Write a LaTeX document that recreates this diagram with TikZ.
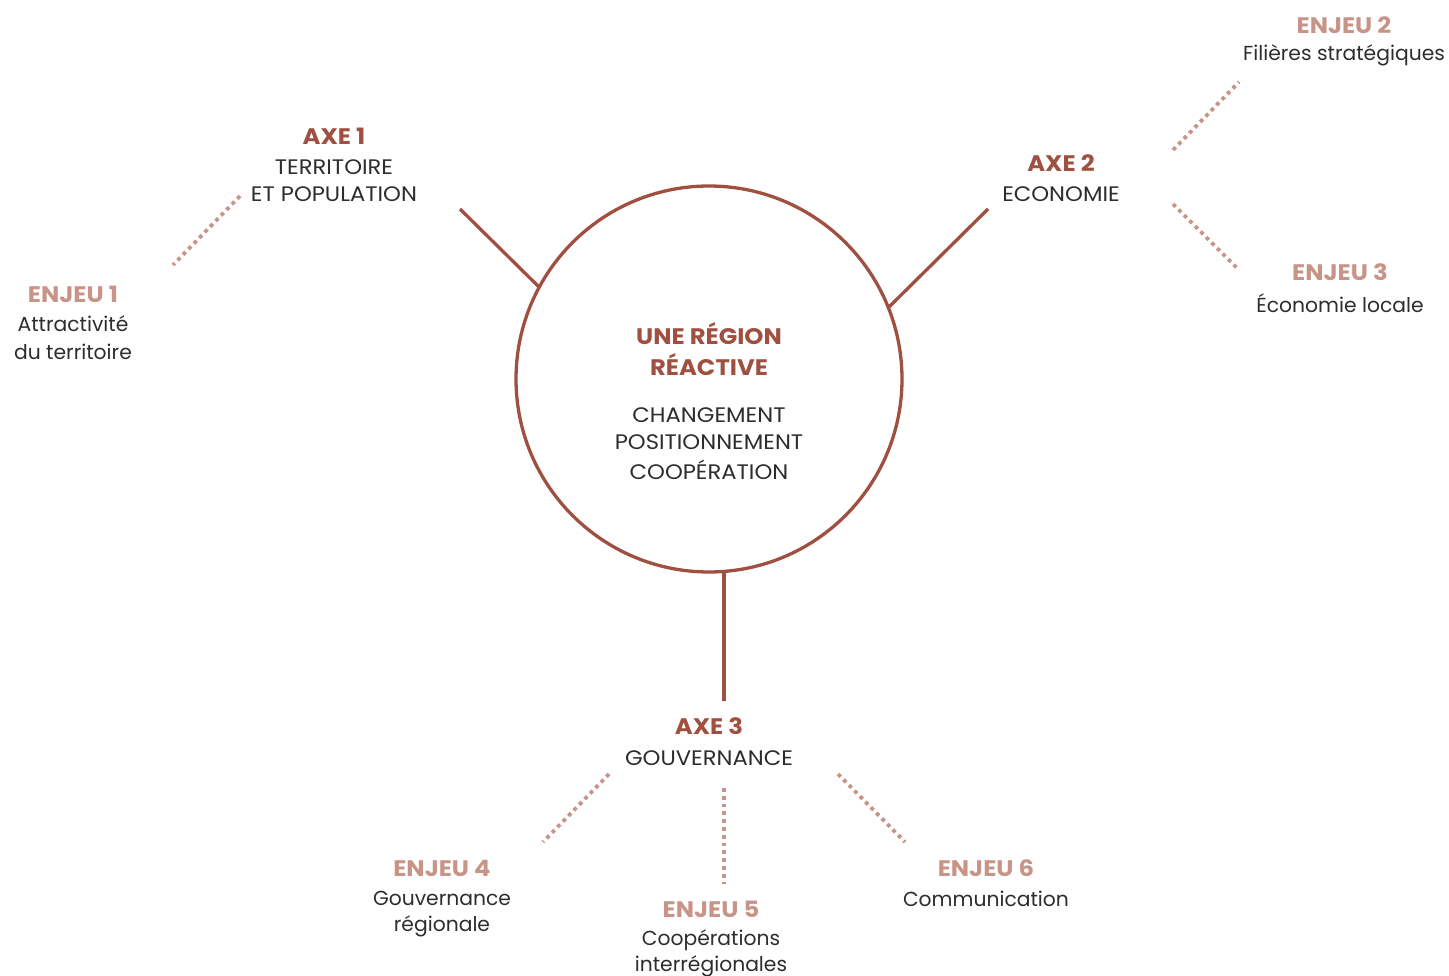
\documentclass[tikz,border=0pt]{standalone}
\usepackage{fontspec}
\setmainfont{Poppins}
\newfontfamily\widefont[FakeStretch=1.08]{Poppins}
\definecolor{axec}{RGB}{160,80,64}
\definecolor{enjc}{RGB}{200,148,136}
\definecolor{txtc}{RGB}{45,45,45}
\tikzset{
  axeline/.style={draw=axec, line width=3.3pt},
  enjline/.style={draw=enjc, line width=3.8pt, dash pattern=on 3.8pt off 4pt},
  axetitle/.style={font=\widefont\fontsize{22.5}{26}\selectfont\bfseries, text=axec, inner sep=0pt, anchor=center},
  enjtitle/.style={font=\widefont\fontsize{22.5}{26}\selectfont\bfseries, text=enjc, inner sep=0pt, anchor=center},
  capl/.style={font=\widefont\fontsize{21}{24}\selectfont, text=txtc, inner sep=0pt, anchor=center},
  lbl/.style={font=\fontsize{20.3}{24}\selectfont, text=txtc, inner sep=0pt, anchor=center},
}
\begin{document}
\begin{tikzpicture}[x=1pt,y=-1pt]
\useasboundingbox (0,0) rectangle (1449,976);
% central circle
\node[draw=axec, line width=3.3pt, circle, minimum size=386pt, inner sep=0pt] (c) at (709,379) {};
\node[axetitle] (t1) at (709,334) {UNE RÉGION};
\node[axetitle] (t2) at (709,365) {RÉACTIVE};
\node[capl] (t3) at (709,415) {CHANGEMENT};
\node[capl] (t4) at (709,442) {POSITIONNEMENT};
\node[capl] (t5) at (709,470) {COOPÉRATION};
% axes
\node[axetitle] (a1) at (334,136) {AXE 1};
\node[capl] (a1a) at (334,167) {TERRITOIRE};
\node[capl] (a1b) at (334,194) {ET POPULATION};
\node[axetitle] (a2) at (1061,163) {AXE 2};
\node[capl] (a2a) at (1061,194) {ECONOMIE};
\node[axetitle] (a3) at (709,726) {AXE 3};
\node[capl] (a3a) at (709,758) {GOUVERNANCE};
% enjeux
\node[enjtitle] (e1) at (73,294) {ENJEU 1};
\node[lbl] (e1a) at (73,324) {Attractivité};
\node[lbl] (e1b) at (73,352) {du territoire};
\node[enjtitle] (e2) at (1344,25) {ENJEU 2};
\node[lbl] (e2a) at (1344,55) {Filières stratégiques};
\node[enjtitle] (e3) at (1340,272) {ENJEU 3};
\node[lbl] (e3a) at (1340,303) {Économie locale};
\node[enjtitle] (e4) at (442,868) {ENJEU 4};
\node[lbl] (e4a) at (442,898) {Gouvernance};
\node[lbl] (e4b) at (442,926) {régionale};
\node[enjtitle] (e5) at (711,909) {ENJEU 5};
\node[lbl] (e5a) at (711,940) {Coopérations};
\node[lbl] (e5b) at (711,966) {interrégionales};
\node[enjtitle] (e6) at (986,868) {ENJEU 6};
\node[lbl] (e6a) at (986,899) {Communication};
% line end coordinates
\coordinate (l1s) at (460,209); \coordinate (l1e) at (539,287);
\coordinate (l2s) at (988,209); \coordinate (l2e) at (889,307);
\coordinate (l3s) at (724,572); \coordinate (l3e) at (724,701);
\draw[axeline] (l1s) -- (l1e);
\draw[axeline] (l2s) -- (l2e);
\draw[axeline] (l3s) -- (l3e);
\coordinate (d1s) at (240,196); \coordinate (d1e) at (173,265);
\coordinate (d2s) at (1173,150); \coordinate (d2e) at (1239,82);
\coordinate (d3s) at (1173,204); \coordinate (d3e) at (1239,270);
\coordinate (d4s) at (609,774); \coordinate (d4e) at (543,842);
\coordinate (d5s) at (724,788); \coordinate (d5e) at (724,884);
\coordinate (d6s) at (838,774); \coordinate (d6e) at (905,842);
\draw[enjline] (d1s) -- (d1e);
\draw[enjline] (d2s) -- (d2e);
\draw[enjline] (d3s) -- (d3e);
\draw[enjline] (d4s) -- (d4e);
\draw[enjline] (d5s) -- (d5e);
\draw[enjline] (d6s) -- (d6e);
\end{tikzpicture}
\end{document}
